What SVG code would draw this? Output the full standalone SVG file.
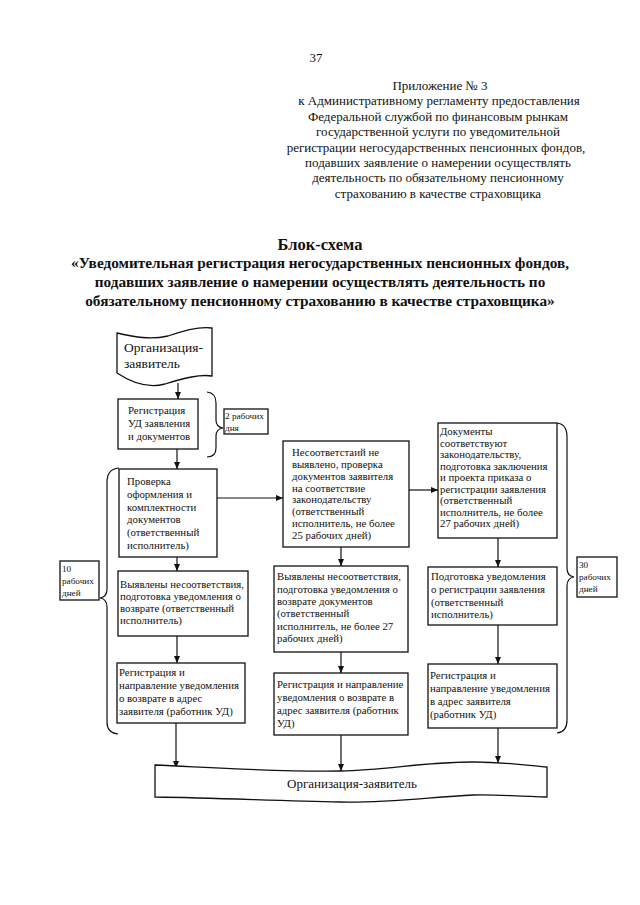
<svg xmlns="http://www.w3.org/2000/svg" width="640" height="905" viewBox="0 0 640 905">
<defs>
<marker id="ah" markerWidth="8" markerHeight="8" refX="7" refY="4" orient="auto" markerUnits="userSpaceOnUse">
<path d="M0,1 L7,4 L0,7 Z" fill="#111"/>
</marker>
<style>
.t{font-family:"Liberation Serif","Times New Roman",serif;fill:#111}
.h{font-size:13px}
.b{font-size:15.3px;font-weight:bold}
.n{font-size:10.8px}
.s{font-size:9.2px}
.box{fill:#fff;stroke:#111;stroke-width:1.3}
.ln{fill:none;stroke:#111;stroke-width:1.2}
.c{fill:none;stroke:#111;stroke-width:1.2;marker-end:url(#ah)}
</style>
</defs>
<rect width="640" height="905" fill="#fff"/>
<g id="header" class="t h" text-anchor="middle">
<text x="316" y="62">37</text>
<text x="440" y="90">Приложение № 3</text>
<text x="439" y="105">к Административному регламенту предоставления</text>
<text x="438" y="121">Федеральной службой по финансовым рынкам</text>
<text x="438" y="136">государственной услуги по уведомительной</text>
<text x="436" y="152">регистрации негосударственных пенсионных фондов,</text>
<text x="438" y="167">подавших заявление о намерении осуществлять</text>
<text x="438" y="182">деятельность по обязательному пенсионному</text>
<text x="438" y="198">страхованию в качестве страховщика</text>
</g>
<g id="title" class="t b" text-anchor="middle">
<text x="320" y="250" style="font-size:16.5px">Блок-схема</text>
<text x="320" y="268">«Уведомительная регистрация негосударственных пенсионных фондов,</text>
<text x="320" y="287">подавших заявление о намерении осуществлять деятельность по</text>
<text x="320" y="306">обязательному пенсионному страхованию в качестве страховщика»</text>
</g>
<g id="connectors">
<path class="c" d="M178,383 V399"/>
<path class="c" d="M177,449 V469"/>
<path class="c" d="M217,498 H283"/>
<path class="c" d="M409,490 H438"/>
<path class="c" d="M177,557 V571"/>
<path class="c" d="M341,547 V566"/>
<path class="c" d="M498,538 V567"/>
<path class="c" d="M177,636 V663"/>
<path class="c" d="M341,652 V673"/>
<path class="c" d="M498,625 V664"/>
<path class="c" d="M176,723 V768"/>
<path class="c" d="M341,735 V771"/>
<path class="c" d="M498,728 V763"/>
</g>
<g id="org-top">
<path class="box" d="M117,333 C135,337 150,340 168,336 C185,330 200,326 212,328 L212,376 C200,374 185,378 165,384 C150,388 135,385 117,373 Z"/>
<text class="t" x="124" y="352" style="font-size:13.5px">Организация-</text>
<text class="t" x="124" y="368" style="font-size:13.5px">заявитель</text>
</g>
<g id="reg">
<rect class="box" x="118" y="399" width="80" height="50"/>
<text class="t n"><tspan x="128" y="414">Регистрация</tspan><tspan x="128" y="427">УД заявления</tspan><tspan x="128" y="440">и документов</tspan></text>
</g>
<g id="days2">
<path class="ln" d="M207,392 Q216,393 216,403 L216,420 Q216,427 223,428 Q216,429 216,436 L216,448 Q216,457 207,457"/>
<rect class="box" x="224" y="409" width="44" height="25"/>
<text class="t s"><tspan x="225" y="419">2 рабочих</tspan><tspan x="225" y="431">дня</tspan></text>
</g>
<g id="check">
<rect class="box" x="119" y="469" width="98" height="88"/>
<text class="t n"><tspan x="127" y="485">Проверка</tspan><tspan x="127" y="498">оформления и</tspan><tspan x="127" y="511">комплектности</tspan><tspan x="127" y="523">документов</tspan><tspan x="127" y="536">(ответственный</tspan><tspan x="127" y="549">исполнитель)</tspan></text>
</g>
<g id="nomismatch">
<rect class="box" x="283" y="441" width="126" height="106"/>
<text class="t n"><tspan x="292" y="456">Несоответстаий не</tspan><tspan x="292" y="468">выявлено, проверка</tspan><tspan x="292" y="480">документов заявителя</tspan><tspan x="292" y="492">на соответствие</tspan><tspan x="292" y="503">законодательству</tspan><tspan x="292" y="515">(ответственный</tspan><tspan x="292" y="527">исполнитель, не более</tspan><tspan x="292" y="539">25 рабочих дней)</tspan></text>
</g>
<g id="docs-ok">
<rect class="box" x="438" y="423" width="119" height="115"/>
<text class="t n"><tspan x="440" y="435">Документы</tspan><tspan x="440" y="447">соответствуют</tspan><tspan x="440" y="458">законодательству,</tspan><tspan x="440" y="470">подготовка заключения</tspan><tspan x="440" y="481">и проекта приказа о</tspan><tspan x="440" y="493">регистрации заявления</tspan><tspan x="440" y="504">(ответственный</tspan><tspan x="440" y="516">исполнитель, не более</tspan><tspan x="440" y="527">27 рабочих дней)</tspan></text>
</g>
<g id="days30">
<path class="ln" d="M557,423 Q567,424 567,437 L567,568 Q567,576 574,577 Q567,578 567,586 L567,720 Q567,732 557,733"/>
<rect class="box" x="577" y="557" width="40" height="40"/>
<text class="t s"><tspan x="579" y="568">30</tspan><tspan x="579" y="580">рабочих</tspan><tspan x="579" y="592">дней</tspan></text>
</g>
<g id="days10">
<path class="ln" d="M119,468 Q107,469 107,482 L107,589 Q107,597 100,598 Q107,599 107,607 L107,722 Q107,733 118,734"/>
<rect class="box" x="60" y="561" width="39" height="39"/>
<text class="t s"><tspan x="62" y="572">10</tspan><tspan x="62" y="584">рабочих</tspan><tspan x="62" y="596">дней</tspan></text>
</g>
<g id="left-mismatch">
<rect class="box" x="118" y="571" width="130" height="65"/>
<text class="t n"><tspan x="120" y="588">Выявлены несоответствия,</tspan><tspan x="120" y="600">подготовка уведомления о</tspan><tspan x="120" y="612">возврате (ответственный</tspan><tspan x="120" y="624">исполнитель)</tspan></text>
</g>
<g id="left-reg">
<rect class="box" x="117" y="663" width="128" height="60"/>
<text class="t n"><tspan x="119" y="676">Регистрация и</tspan><tspan x="119" y="689">направление уведомления</tspan><tspan x="119" y="702">о возврате в адрес</tspan><tspan x="119" y="715">заявителя (работник УД)</tspan></text>
</g>
<g id="mid-mismatch">
<rect class="box" x="274" y="566" width="134" height="86"/>
<text class="t n"><tspan x="277" y="580">Выявлены несоответствия,</tspan><tspan x="277" y="593">подготовка уведомления о</tspan><tspan x="277" y="605">возврате документов</tspan><tspan x="277" y="617">(ответственный</tspan><tspan x="277" y="630">исполнитель, не более 27</tspan><tspan x="277" y="642">рабочих дней)</tspan></text>
</g>
<g id="mid-reg">
<rect class="box" x="274" y="673" width="134" height="62"/>
<text class="t n"><tspan x="277" y="688">Регистрация и направление</tspan><tspan x="277" y="701">уведомления о возврате в</tspan><tspan x="277" y="714">адрес заявителя (работник</tspan><tspan x="277" y="727">УД)</tspan></text>
</g>
<g id="right-prep">
<rect class="box" x="428" y="567" width="129" height="58"/>
<text class="t n"><tspan x="431" y="580">Подготовка уведомления</tspan><tspan x="431" y="593">о регистрации заявления</tspan><tspan x="431" y="606">(ответственный</tspan><tspan x="431" y="618">исполнитель)</tspan></text>
</g>
<g id="right-reg">
<rect class="box" x="428" y="664" width="129" height="64"/>
<text class="t n"><tspan x="430" y="679">Регистрация и</tspan><tspan x="430" y="692">направление уведомления</tspan><tspan x="430" y="705">в адрес заявителя</tspan><tspan x="430" y="718">(работник УД)</tspan></text>
</g>
<g id="org-bottom">
<path class="box" d="M155,765 C220,768 280,772 340,771 C390,770 420,762 473,762 C510,762 530,766 547,767 L547,797 C510,796 490,794 473,795 C430,797 390,803 340,802 C280,801 220,798 155,797 Z"/>
<text class="t" x="352" y="788" text-anchor="middle" style="font-size:13px">Организация-заявитель</text>
</g>
</svg>
